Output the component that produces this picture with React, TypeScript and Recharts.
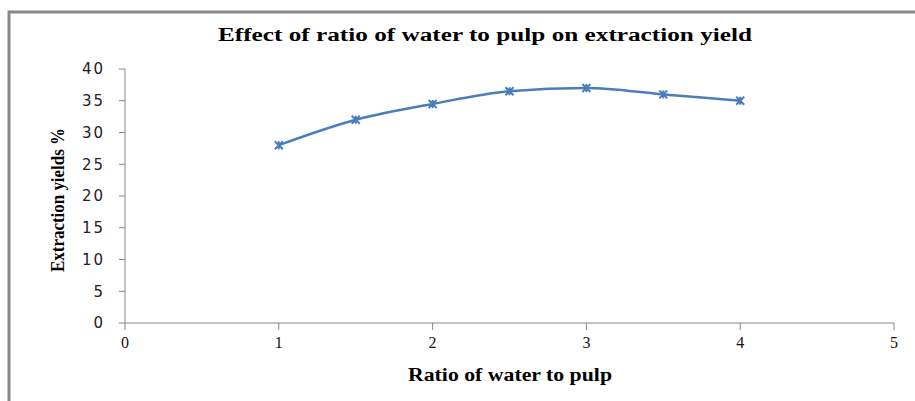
import React from "react";
import { LineChart, Line, XAxis, YAxis } from "recharts";

// ratio of water to pulp vs extraction yield (%)
const ratios = [1, 1.5, 2, 2.5, 3, 3.5, 4];
const yields = [28, 32, 34.5, 36.5, 37, 36, 35];
const xTicks = [0, 1, 2, 3, 4, 5];
const yTicks = [0, 5, 10, 15, 20, 25, 30, 35, 40];

const W = 915;
const H = 401;
const LINE = "#4A7EBB";
const AXIS = "#868686";

const data = ratios.map((r, i) => ({ ratio: r, yield: yields[i] }));

function StarDot(props: any) {
  const { cx, cy } = props;
  if (cx == null || cy == null) return null;
  const s = 4;
  return (
    <path
      d={`M${cx - s},${cy - s}L${cx + s},${cy + s}M${cx - s},${cy + s}L${cx + s},${cy - s}M${cx},${cy - s}L${cx},${cy + s}`}
      stroke={LINE}
      strokeWidth={2}
      fill="none"
    />
  );
}

const serif = "'Liberation Serif', 'Times New Roman', serif";

export default function App() {
  return (
    <div style={{ position: "absolute", left: 0, top: 0, width: W, height: H, background: "#fff" }}>
      <LineChart
        width={W}
        height={H}
        data={data}
        margin={{ top: 69, right: 21, bottom: 48, left: 65 }}
      >
        <XAxis
          dataKey="ratio"
          type="number"
          domain={[0, 5]}
          ticks={xTicks}
          stroke={AXIS}
          tickSize={7}
          tickMargin={7}
          height={30}
          tick={{ fill: "#111", fontSize: 16, fontFamily: serif }}
        />
        <YAxis
          type="number"
          domain={[0, 40]}
          ticks={yTicks}
          stroke={AXIS}
          tickSize={6}
          tickMargin={14}
          width={60}
          tick={{ fill: "#222", fontSize: 15, letterSpacing: 2, fontFamily: "'DejaVu Sans', Verdana, sans-serif" }}
        />
        <Line
          dataKey="yield"
          type="monotone"
          stroke={LINE}
          strokeWidth={2.5}
          dot={<StarDot />}
          activeDot={false}
          isAnimationActive={false}
        />
      </LineChart>
      <svg
        width={W}
        height={H}
        style={{ position: "absolute", left: 0, top: 0, pointerEvents: "none" }}
      >
        <path d={`M9,${H}L9,12L${W},12`} stroke="#888" strokeWidth={3} fill="none" />
        <text
          x={485}
          y={41}
          textAnchor="middle"
          fontFamily={serif}
          fontWeight="bold"
          fontSize={18}
          textLength={534}
          lengthAdjust="spacingAndGlyphs"
          fill="#000"
        >
          Effect of ratio of water to pulp on extraction yield
        </text>
        <text
          x={510}
          y={381}
          textAnchor="middle"
          fontFamily={serif}
          fontWeight="bold"
          fontSize={18}
          textLength={204}
          lengthAdjust="spacingAndGlyphs"
          fill="#000"
        >
          Ratio of water to pulp
        </text>
        <text
          transform="translate(64,200) rotate(-90)"
          textAnchor="middle"
          fontFamily={serif}
          fontWeight="bold"
          fontSize={18}
          textLength={144}
          lengthAdjust="spacingAndGlyphs"
          fill="#000"
        >
          Extraction yields %
        </text>
      </svg>
    </div>
  );
}
